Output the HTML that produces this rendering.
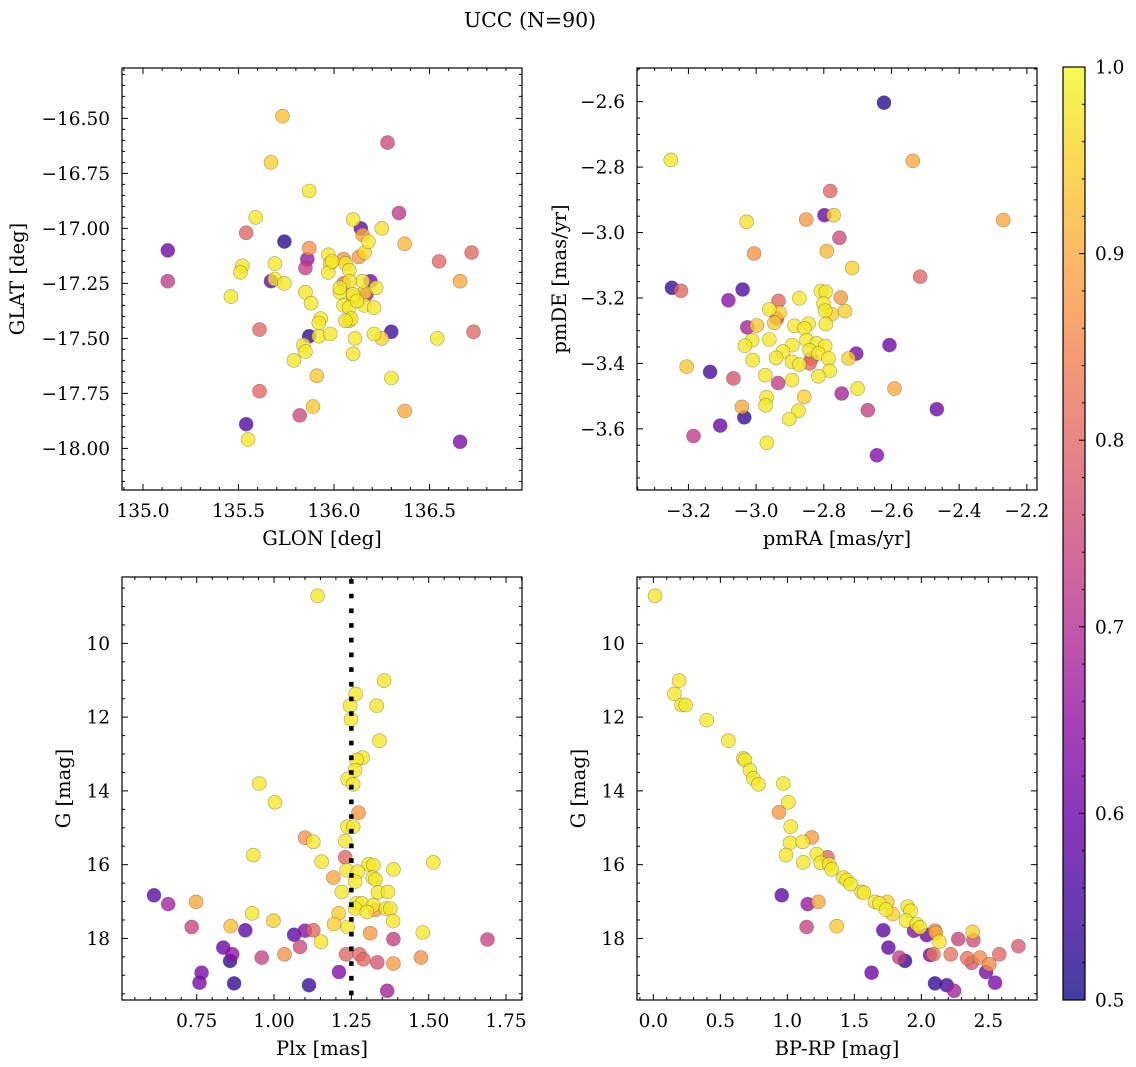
<!DOCTYPE html>
<html><head><meta charset="utf-8">
<style>
html,body{margin:0;padding:0;background:#fff;}
svg{display:block;font-family:"DejaVu Serif","Liberation Serif",serif;}
</style></head>
<body>
<svg id="fig" width="1136" height="1067" viewBox="0 0 1136 1067" xmlns="http://www.w3.org/2000/svg">
<defs>
<linearGradient id="plasma" x1="0" y1="1" x2="0" y2="0">
<stop offset="0" stop-color="#0d0887"/><stop offset="0.1" stop-color="#41049d"/><stop offset="0.2" stop-color="#6a00a8"/><stop offset="0.3" stop-color="#8f0da4"/><stop offset="0.4" stop-color="#b12a90"/><stop offset="0.5" stop-color="#cc4778"/><stop offset="0.6" stop-color="#e16462"/><stop offset="0.7" stop-color="#f2844b"/><stop offset="0.8" stop-color="#fca636"/><stop offset="0.9" stop-color="#fcce25"/><stop offset="1" stop-color="#f0f921"/>
</linearGradient>
</defs>
<text x="530" y="27" font-size="20.5" text-anchor="middle" fill="#000">UCC (N=90)</text>
<g id="layer"></g>
</svg>
<script>
// ---- Panel 1: GLON / GLAT ----
const glon=[135.73,136.28,135.67,135.87,136.34,135.59,136.10,136.14,136.25,135.54,136.15,136.18,135.74,136.37,135.13,135.87,136.72,136.16,135.97,136.13,136.55,135.86,136.05,136.06,135.52,135.69,135.98,135.85,135.51,135.97,136.08,135.13,135.67,136.66,135.69,135.74,136.19,136.15,136.05,136.08,136.22,135.46,135.85,136.03,136.16,136.17,136.10,135.88,136.05,136.08,136.16,136.21,135.93,136.08,136.09,135.92,135.61,136.30,135.87,135.92,135.98,136.11,136.21,136.25,136.54,136.73,135.84,135.85,136.10,135.79,135.91,136.30,135.61,135.89,136.37,135.82,135.54,135.55,136.66,136.03,136.10,136.12,136.06,135.99];
const glat=[-16.49,-16.61,-16.70,-16.83,-16.93,-16.95,-16.96,-17.00,-17.00,-17.02,-17.03,-17.06,-17.06,-17.07,-17.10,-17.09,-17.11,-17.11,-17.12,-17.13,-17.15,-17.14,-17.14,-17.16,-17.17,-17.16,-17.16,-17.18,-17.20,-17.20,-17.19,-17.24,-17.24,-17.24,-17.23,-17.25,-17.24,-17.24,-17.25,-17.24,-17.27,-17.31,-17.29,-17.29,-17.29,-17.30,-17.31,-17.34,-17.35,-17.36,-17.35,-17.36,-17.41,-17.42,-17.41,-17.43,-17.46,-17.47,-17.49,-17.49,-17.48,-17.50,-17.48,-17.50,-17.50,-17.47,-17.53,-17.56,-17.57,-17.60,-17.67,-17.68,-17.74,-17.81,-17.83,-17.85,-17.89,-17.96,-17.97,-17.27,-17.30,-17.33,-17.42,-17.15];
const prob1=[0.93,0.75,0.95,0.98,0.72,0.98,0.98,0.58,0.97,0.8,0.9,0.98,0.52,0.92,0.6,0.87,0.8,0.96,0.98,0.88,0.8,0.66,0.88,0.98,0.98,0.98,0.98,0.73,0.98,0.98,0.98,0.73,0.6,0.9,0.98,0.98,0.62,0.98,0.82,0.98,0.98,0.98,0.98,0.98,0.95,0.68,0.98,0.98,0.98,0.98,0.98,0.98,0.98,0.98,0.98,0.98,0.8,0.55,0.53,0.98,0.98,0.98,0.98,0.95,0.98,0.8,0.98,0.98,0.98,0.98,0.94,0.98,0.8,0.94,0.9,0.75,0.57,0.98,0.62,0.98,0.98,0.98,0.98,0.98];
// ---- Panel 2: pmRA / pmDE ----
const pmra=[-2.622,-3.252,-2.537,-2.781,-2.798,-2.771,-3.028,-2.852,-2.270,-2.754,-3.006,-2.791,-2.716,-2.515,-3.249,-3.222,-3.040,-3.082,-2.809,-2.794,-2.750,-2.872,-2.934,-2.801,-2.961,-2.931,-2.796,-2.776,-2.737,-2.946,-2.939,-3.026,-2.998,-2.887,-2.845,-2.857,-2.794,-2.961,-3.012,-3.033,-2.893,-2.851,-2.821,-2.796,-2.842,-2.606,-2.704,-2.727,-2.921,-2.941,-2.816,-2.786,-2.837,-3.010,-2.894,-2.872,-2.842,-2.783,-3.205,-3.136,-3.067,-2.973,-2.894,-2.816,-2.935,-2.700,-2.591,-2.747,-2.858,-2.969,-2.972,-3.042,-3.035,-2.875,-2.902,-2.670,-2.466,-3.106,-3.185,-2.968,-2.643];
const pmde=[-2.603,-2.778,-2.781,-2.873,-2.947,-2.947,-2.967,-2.960,-2.962,-3.016,-3.064,-3.057,-3.108,-3.135,-3.169,-3.178,-3.174,-3.207,-3.179,-3.181,-3.199,-3.201,-3.209,-3.217,-3.235,-3.245,-3.239,-3.249,-3.240,-3.276,-3.263,-3.290,-3.284,-3.285,-3.278,-3.293,-3.280,-3.327,-3.329,-3.346,-3.344,-3.329,-3.339,-3.347,-3.360,-3.344,-3.370,-3.385,-3.364,-3.383,-3.370,-3.385,-3.385,-3.390,-3.395,-3.403,-3.400,-3.423,-3.410,-3.426,-3.446,-3.436,-3.451,-3.439,-3.460,-3.477,-3.477,-3.492,-3.502,-3.504,-3.528,-3.533,-3.565,-3.545,-3.570,-3.543,-3.540,-3.590,-3.622,-3.643,-3.681];
const prob2=[0.52,0.98,0.9,0.8,0.6,0.95,0.97,0.88,0.9,0.75,0.87,0.92,0.95,0.8,0.53,0.8,0.57,0.64,0.98,0.98,0.88,0.98,0.8,0.98,0.98,0.95,0.98,0.95,0.95,0.95,0.73,0.68,0.94,0.98,0.98,0.98,0.98,0.98,0.98,0.98,0.98,0.98,0.98,0.98,0.98,0.6,0.62,0.95,0.98,0.98,0.98,0.98,0.8,0.98,0.98,0.98,0.8,0.98,0.94,0.55,0.77,0.98,0.98,0.98,0.73,0.98,0.9,0.68,0.95,0.98,0.98,0.9,0.53,0.98,0.98,0.73,0.6,0.6,0.72,0.98,0.63];
// ---- Panel 3: Plx / G ----
const plx=[1.141,1.356,1.264,1.246,1.332,1.249,1.341,1.286,1.267,1.262,1.238,1.256,0.952,1.003,1.273,1.238,1.256,1.100,1.127,1.230,0.933,1.230,1.154,1.515,1.306,1.321,1.386,1.235,1.271,1.262,1.319,1.328,1.192,1.219,1.336,1.368,1.267,1.284,1.262,1.321,1.327,1.300,1.362,1.376,1.209,1.385,1.194,1.238,0.748,0.612,0.658,0.929,0.998,0.734,0.860,0.907,1.065,1.100,1.127,1.152,1.311,1.481,1.386,1.690,0.836,0.865,0.858,0.960,1.034,1.084,1.233,1.276,1.289,1.334,1.386,1.475,0.766,0.759,0.871,1.210,1.113,1.366];
const gmag3=[8.71,11.01,11.37,11.69,11.69,12.06,12.64,13.10,13.16,13.44,13.68,13.82,13.80,14.31,14.59,14.97,14.97,15.27,15.38,15.36,15.74,15.80,15.92,15.94,15.99,16.01,16.13,16.15,16.19,16.46,16.35,16.40,16.35,16.74,16.75,16.74,17.05,17.05,17.19,17.10,17.23,17.28,17.19,17.19,17.32,17.53,17.61,17.69,17.01,16.83,17.07,17.32,17.52,17.69,17.67,17.78,17.90,17.79,17.78,18.09,17.86,17.84,18.02,18.03,18.25,18.43,18.61,18.52,18.43,18.23,18.43,18.43,18.57,18.65,18.68,18.52,18.93,19.20,19.22,18.91,19.27,19.42];
const prob3=[0.98,0.98,0.98,0.98,0.98,0.98,0.98,0.98,0.98,0.98,0.98,0.98,0.98,0.98,0.88,0.98,0.98,0.87,0.98,0.98,0.98,0.8,0.98,0.98,0.98,0.98,0.98,0.98,0.98,0.98,0.98,0.98,0.9,0.98,0.98,0.98,0.98,0.98,0.98,0.98,0.88,0.98,0.98,0.98,0.95,0.98,0.95,0.98,0.9,0.58,0.68,0.98,0.95,0.74,0.93,0.58,0.58,0.64,0.8,0.98,0.88,0.98,0.73,0.74,0.6,0.65,0.53,0.74,0.87,0.75,0.8,0.8,0.8,0.77,0.88,0.87,0.62,0.62,0.53,0.63,0.54,0.68];
// ---- Panel 4: BP-RP / G ----
const bprp=[0.012,0.192,0.157,0.211,0.241,0.398,0.560,0.672,0.684,0.721,0.746,0.784,0.970,1.007,0.938,1.025,1.020,1.114,1.182,0.990,1.119,1.219,1.299,1.249,1.313,1.331,1.418,1.443,1.473,1.555,1.572,1.654,1.687,1.746,1.736,1.786,1.898,1.920,1.886,1.965,1.990,2.102,2.109,2.134,2.383,2.388,2.276,0.958,1.152,1.231,1.144,1.368,1.716,1.945,2.040,1.754,2.065,2.090,2.219,2.343,2.376,2.438,2.507,2.582,2.724,1.836,1.878,1.629,2.483,2.550,2.102,2.189,2.244];
const gmag4=[8.71,11.01,11.37,11.67,11.67,12.08,12.64,13.12,13.16,13.44,13.66,13.82,13.80,14.31,14.58,14.97,15.41,15.38,15.26,15.74,15.94,15.71,15.80,15.95,15.99,16.13,16.35,16.42,16.53,16.74,16.76,17.01,17.05,17.01,17.22,17.34,17.14,17.25,17.52,17.61,17.70,17.79,17.85,18.09,17.82,18.05,18.02,16.83,17.07,17.01,17.69,17.67,17.78,17.79,17.91,18.25,18.45,18.43,18.43,18.54,18.66,18.52,18.70,18.43,18.21,18.52,18.61,18.93,18.91,19.20,19.22,19.27,19.42];
const prob4=[0.98,0.98,0.98,0.98,0.98,0.98,0.98,0.98,0.98,0.98,0.98,0.98,0.98,0.98,0.88,0.98,0.98,0.98,0.88,0.98,0.98,0.98,0.8,0.98,0.98,0.98,0.98,0.98,0.98,0.98,0.98,0.98,0.98,0.95,0.98,0.95,0.98,0.98,0.98,0.98,0.98,0.85,0.9,0.98,0.95,0.76,0.74,0.58,0.66,0.9,0.74,0.94,0.58,0.64,0.6,0.58,0.62,0.82,0.82,0.82,0.77,0.86,0.86,0.8,0.78,0.73,0.53,0.6,0.62,0.62,0.53,0.55,0.68];
const cbTicks=[0.5,0.6,0.7,0.8,0.9,1.0];

const NS="http://www.w3.org/2000/svg";
const layer=document.getElementById('layer');
const TICKFS=18.5, LABFS=19.5;
function mk(tag,attrs,parent){const e=document.createElementNS(NS,tag);for(const k in attrs)e.setAttribute(k,attrs[k]);(parent||layer).appendChild(e);return e;}
const stops=[[13,8,135],[65,4,157],[106,0,168],[143,13,164],[177,42,144],[204,71,120],[225,100,98],[242,132,75],[252,166,54],[252,206,37],[240,249,33]];
function plasma(p){let t=Math.max(0,Math.min(1,(p-0.5)/0.5))*10;const i=Math.min(9,Math.floor(t)),f=t-i;const a=stops[i],b=stops[i+1];return 'rgb('+a.map((v,k)=>Math.round(v+(b[k]-v)*f)).join(',')+')';}
function fmt(v,d){const s=Math.abs(v).toFixed(d);return (v<-1e-9?'\u2212':'')+s;}

function panel(cfg){
  const g=mk('g',{});
  
  
  const {x0,x1,y0,y1}=cfg.box;
  const sx=v=>x0+(v-cfg.xd[0])/(cfg.xd[1]-cfg.xd[0])*(x1-x0);
  const sy=v=>y0+(v-cfg.yd[0])/(cfg.yd[1]-cfg.yd[0])*(y1-y0);
  const idx=cfg.xs.map((_,i)=>i).sort((a,b)=>cfg.ps[a]-cfg.ps[b]);
  const pg=mk('g',{},g);
  
  
  idx.forEach(i=>{
    const c=mk('circle',{cx:sx(cfg.xs[i]).toFixed(1),cy:sy(cfg.ys[i]).toFixed(1),r:7,fill:plasma(cfg.ps[i]),'fill-opacity':0.78,stroke:'rgba(70,70,70,0.5)','stroke-width':0.6},pg);
    
    
  });
  if(cfg.vline!==undefined){
    const l=mk('line',{x1:sx(cfg.vline),x2:sx(cfg.vline),y1:y0+2,y2:y1,stroke:'#000','stroke-width':4.5,'stroke-dasharray':'4.7 10'},g);
    
    
  }
  const fr=mk('rect',{x:x0,y:y0,width:x1-x0,height:y1-y0,fill:'none',stroke:'#000','stroke-width':1.2},g);
  
  
  const tg=mk('g',{stroke:'#000','stroke-width':1},g);
  
  
  const lo=Math.min(...cfg.xd),hi=Math.max(...cfg.xd);
  for(let v=Math.ceil(lo/cfg.xmin)*cfg.xmin;v<=hi;v+=cfg.xmin){const X=sx(v);if(X<x0+0.5||X>x1-0.5)continue;const major=cfg.xmaj.some(m=>Math.abs(m-v)<1e-6);const L=major?6:3;mk('line',{x1:X,x2:X,y1:y1,y2:y1-L},tg);mk('line',{x1:X,x2:X,y1:y0,y2:y0+L},tg);}
  const ylo=Math.min(...cfg.yd),yhi=Math.max(...cfg.yd);
  for(let v=Math.ceil(ylo/cfg.ymin)*cfg.ymin;v<=yhi;v+=cfg.ymin){const Y=sy(v);if(Y<y0+0.5||Y>y1-0.5)continue;const major=cfg.ymaj.some(m=>Math.abs(m-v)<1e-6);const L=major?6:3;mk('line',{x1:x0,x2:x0+L,y1:Y,y2:Y},tg);mk('line',{x1:x1,x2:x1-L,y1:Y,y2:Y},tg);}
  cfg.xmaj.forEach(v=>{const t=mk('text',{x:sx(v),y:y1+27,'font-size':TICKFS,'text-anchor':'middle'},g);t.textContent=fmt(v,cfg.xdec);
    
    });
  cfg.ymaj.forEach(v=>{const t=mk('text',{x:x0-12,y:sy(v)+6.5,'font-size':TICKFS,'text-anchor':'end'},g);t.textContent=fmt(v,cfg.ydec);
    
    });
  const xl=mk('text',{x:(x0+x1)/2,y:y1+55,'font-size':LABFS,'text-anchor':'middle'},g);xl.textContent=cfg.xlabel;
  
  
  const yl=mk('text',{x:0,y:0,'font-size':LABFS,'text-anchor':'middle',transform:'translate('+cfg.ylx+','+(y0+y1)/2+') rotate(-90)'},g);yl.textContent=cfg.ylabel;
  
  
}

panel({name:'glon-glat-panel',box:{x0:122,x1:522,y0:68,y1:490},xd:[134.89,136.984],yd:[-16.271,-18.189],xs:glon,ys:glat,ps:prob1,
  xmaj:[135,135.5,136,136.5],xmin:0.1,xdec:1,ymaj:[-16.5,-16.75,-17,-17.25,-17.5,-17.75,-18],ymin:0.05,ydec:2,xlabel:'GLON [deg]',ylabel:'GLAT [deg]',ylx:24});
panel({name:'pm-panel',box:{x0:637,x1:1037,y0:68,y1:490},xd:[-3.352,-2.170],yd:[-2.497,-3.787],xs:pmra,ys:pmde,ps:prob2,
  xmaj:[-3.2,-3,-2.8,-2.6,-2.4,-2.2],xmin:0.05,xdec:1,ymaj:[-2.6,-2.8,-3,-3.2,-3.4,-3.6],ymin:0.05,ydec:1,xlabel:'pmRA [mas/yr]',ylabel:'pmDE [mas/yr]',ylx:566});
panel({name:'plx-g-panel',box:{x0:122,x1:522,y0:577,y1:1000},xd:[0.5085,1.8017],yd:[8.20,19.67],xs:plx,ys:gmag3,ps:prob3,vline:1.25,
  xmaj:[0.75,1,1.25,1.5,1.75],xmin:0.05,xdec:2,ymaj:[10,12,14,16,18],ymin:0.5,ydec:0,xlabel:'Plx [mas]',ylabel:'G [mag]',ylx:70});
panel({name:'cmd-panel',box:{x0:637,x1:1037,y0:577,y1:1000},xd:[-0.122,2.863],yd:[8.20,19.67],xs:bprp,ys:gmag4,ps:prob4,
  xmaj:[0,0.5,1,1.5,2,2.5],xmin:0.1,xdec:1,ymaj:[10,12,14,16,18],ymin:0.5,ydec:0,xlabel:'BP-RP [mag]',ylabel:'G [mag]',ylx:585});

(function(){
  const g=mk('g',{});
  
  
  const x0=1063,x1=1085,y0=67,y1=1000;
  mk('rect',{x:x0,y:y0,width:x1-x0,height:y1-y0,fill:'url(#plasma)','fill-opacity':0.78},g);
  mk('rect',{x:x0,y:y0,width:x1-x0,height:y1-y0,fill:'none',stroke:'#000','stroke-width':1.2},g);
  const sy=v=>y1-(v-0.5)/0.5*(y1-y0);
  for(let k=0;k<=25;k++){const v=0.5+k*0.02;const Y=sy(v);const major=(k%5===0);if(k===0||k===25)continue;mk('line',{x1:x1,x2:x1-(major?6:3),y1:Y,y2:Y,stroke:'#000','stroke-width':1},g);}
  cbTicks.forEach(v=>{const t=mk('text',{x:x1+10,y:sy(v)+6.5,'font-size':TICKFS},g);t.textContent=v.toFixed(1);
    
    });
})();
</script>
</body></html>
